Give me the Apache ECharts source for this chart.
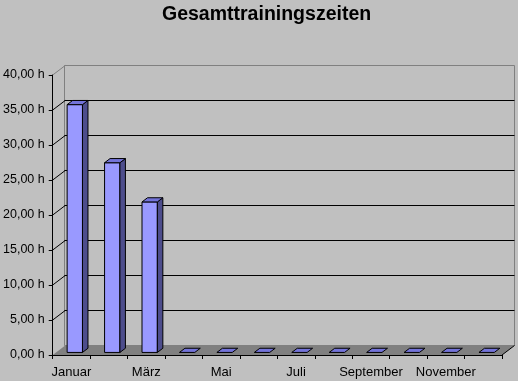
<!DOCTYPE html>
<html>
<head>
<meta charset="utf-8">
<script src="https://cdn.jsdelivr.net/npm/echarts@6/dist/echarts.min.js"></script>
<style>
html,body{margin:0;padding:0;background:#C0C0C0;}
#chart{width:518px;height:381px;}
</style>
</head>
<body>
<div id="chart"></div>
<script>
const title = 'Gesamttrainingszeiten';
const months = ['Januar','Februar','März','April','Mai','Juni','Juli','August','September','Oktober','November','Dezember'];
const hours = [35.4, 27.1, 21.5, 0, 0, 0, 0, 0, 0, 0, 0, 0];
const yTicks = [0, 5, 10, 15, 20, 25, 30, 35, 40];

const yMin = yTicks[0], yMax = yTicks[yTicks.length - 1], yStep = yTicks[1] - yTicks[0];
const DX = 12.5, DY = -9.5;           // depth offset of back wall
const F0 = 0.27, F1 = 0.71;           // bar depth position (fraction)
const BAR_W = 0.41;                   // bar width fraction of category
const FONT = '"Liberation Sans", Arial, sans-serif';

const chart = echarts.init(document.getElementById('chart'), null, {renderer: 'canvas'});

function fmt(v){ return v.toFixed(2).replace('.', ',') + ' h'; }

const option = {
  backgroundColor: '#C0C0C0',
  animation: false,
  title: {
    text: title, left: 157, top: 0,
    textStyle: {fontFamily: FONT, fontSize: 19.5, fontWeight: 'bold', color: '#000'}
  },
  grid: [
    {left: 52, right: 16, top: 75, bottom: 26, show: false},
    {left: 64.5, right: 3.5, top: 65.5, bottom: 35.5, show: true,
     borderColor: '#808080', borderWidth: 1, backgroundColor: 'transparent'}
  ],
  xAxis: [
    {type: 'category', gridIndex: 0, data: months, boundaryGap: true, z: 10,
     axisLine: {show: true, lineStyle: {color: '#000', width: 1}},
     axisTick: {show: true, interval: 0, length: 4, alignWithLabel: false, lineStyle: {color: '#000'}},
     axisLabel: {interval: 1, margin: 11, color: '#000', fontFamily: FONT, fontSize: 13}},
    {type: 'category', gridIndex: 1, data: months, show: false}
  ],
  yAxis: [
    {type: 'value', gridIndex: 0, min: yMin, max: yMax, interval: yStep, z: 10,
     axisLine: {show: true, lineStyle: {color: '#000', width: 1}},
     axisTick: {show: true, length: 4, lineStyle: {color: '#000'}},
     axisLabel: {margin: 8, color: '#000', fontFamily: FONT, fontSize: 12.5, formatter: fmt},
     splitLine: {show: false}},
    {type: 'value', gridIndex: 1, min: yMin, max: yMax, interval: yStep,
     axisLine: {show: false}, axisTick: {show: false}, axisLabel: {show: false},
     splitLine: {show: true, showMinLine: false, showMaxLine: false, lineStyle: {color: '#000', width: 1}}}
  ],
  series: [
    { // floor
      type: 'custom', xAxisIndex: 0, yAxisIndex: 0, z: 2,
      data: [[0, yMin]],
      renderItem: function(params, api){
        const w = api.size([1, 0])[0];
        const l = api.coord([0, yMin]);
        const r = api.coord([months.length - 1, yMin]);
        const xl = l[0] - w / 2, xr = r[0] + w / 2, y = l[1];
        return {type: 'group', children: [
          {type: 'polygon', shape: {points: [[xl, y], [xr, y], [xr + DX, y + DY], [xl + DX, y + DY]]},
           style: {fill: '#808080', stroke: null}},
          {type: 'line', shape: {x1: xr, y1: y, x2: xr + DX, y2: y + DY}, style: {stroke: '#000', lineWidth: 1}}
        ]};
      }
    },
    { // left wall diagonals
      type: 'custom', xAxisIndex: 0, yAxisIndex: 0, z: 3,
      data: yTicks.slice(1).map(v => [0, v]),
      renderItem: function(params, api){
        const v = api.value(1);
        const w = api.size([1, 0])[0];
        const p = api.coord([0, v]);
        const x0 = p[0] - w / 2;
        return {type: 'line', shape: {x1: x0, y1: p[1], x2: x0 + DX, y2: p[1] + DY},
                style: {stroke: v === yMax ? '#808080' : '#000', lineWidth: 1}};
      }
    },
    { // 3D bars
      type: 'custom', xAxisIndex: 0, yAxisIndex: 0, z: 4,
      data: months.map((m, i) => [i, hours[i]]),
      renderItem: function(params, api){
        const i = api.value(0), v = api.value(1);
        const base = api.coord([i, 0]);
        const top = api.coord([i, v]);
        const w = api.size([1, 0])[0];
        const bw = w * BAR_W;
        const ox = DX * F0, oy = DY * F0;
        const ddx = DX * (F1 - F0), ddy = DY * (F1 - F0);
        const xl = base[0] - bw / 2 + ox, xr = xl + bw;
        const yb = base[1] + oy, yt = top[1] + oy;
        const line = {stroke: '#000', lineWidth: 1};
        const children = [];
        if (v > 0) {
          children.push({type: 'rect', shape: {x: xl, y: yt, width: bw, height: yb - yt},
                         style: Object.assign({fill: '#9999FF'}, line)});
          children.push({type: 'polygon', shape: {points: [[xr, yt], [xr + ddx, yt + ddy], [xr + ddx, yb + ddy], [xr, yb]]},
                         style: Object.assign({fill: '#4D4D8C'}, line)});
        }
        children.push({type: 'polygon', shape: {points: [[xl, yt], [xr, yt], [xr + ddx, yt + ddy], [xl + ddx, yt + ddy]]},
                       style: Object.assign({fill: '#7373D9'}, line)});
        return {type: 'group', children: children};
      }
    }
  ]
};
chart.setOption(option);
</script>
</body>
</html>
